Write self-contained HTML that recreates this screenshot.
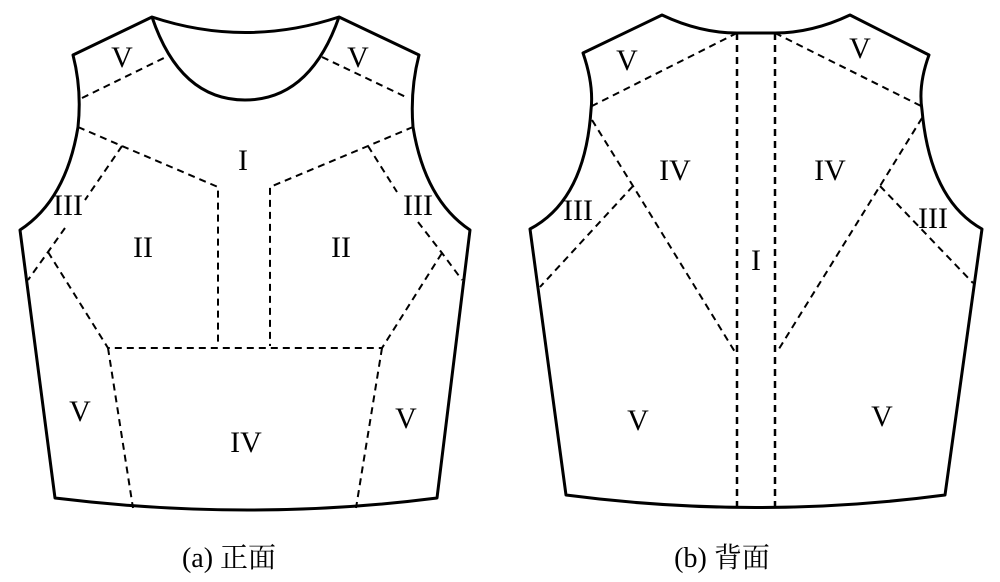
<!DOCTYPE html>
<html><head><style>body{margin:0;background:#fff}svg{display:block}</style></head>
<body>
<svg width="1000" height="582" viewBox="0 0 1000 582" xmlns="http://www.w3.org/2000/svg" font-family="'Liberation Serif','Noto Serif CJK SC',serif">
<g fill="none" stroke="#000" stroke-width="3" stroke-linejoin="round">
<path d="M73,55 L152,17 Q245,48 339,17 L419,55 Q410,90 413,127 Q425,200 470,230 L437,498 Q250,522 55,498 L20,230 Q66,200 78,127 Q82,90 73,55 Z"/>
<path d="M152,17 Q180,100 245,100 Q310,100 339,17" />
<path d="M583,53 L662,15 Q700,33 737,33 L775,33 Q812,33 850,15 L929,55 Q918,85 922,110 Q930,200 982,229 L945,495 Q756,520 566,495 L530,229 Q585,200 591,110 Q594,85 583,53 Z"/>
</g>
<g fill="none" stroke="#000" stroke-width="2" stroke-dasharray="7,5">
<path d="M82,98 L168,56"/><path d="M322,57 L408,98"/>
<path d="M78,127 L122,146 L218,187 L218,346"/>
<path d="M413,127 L368,146 L270,187 L270,346"/>
<path d="M122,146 L85,200"/><path d="M65,228 L48,252 L28,280"/><path d="M48,252 L108,348 L382,348 L442,253"/>
<path d="M368,146 L397,192"/><path d="M418,222 L442,253 L462,280"/>
<path d="M108,348 L133,508"/><path d="M382,348 L356,508"/>
<path d="M737,33 L737,512" stroke-width="2.5"/><path d="M775,33 L775,512" stroke-width="2.5"/>
<path d="M737,33 L592,106"/><path d="M775,33 L921,106"/>
<path d="M592,120 L633,186 L735,352"/><path d="M922,118 L880,186 L777,352"/>
<path d="M633,186 L540,287"/><path d="M880,186 L973,283"/>
</g>
<g font-size="30" text-anchor="middle" fill="#000">
<text x="122" y="67">V</text><text x="358" y="67">V</text>
<text x="243" y="170">I</text>
<text x="143" y="257">II</text><text x="341" y="257">II</text>
<text x="68" y="215">III</text><text x="418" y="215">III</text>
<text x="80" y="421">V</text><text x="406" y="428">V</text>
<text x="246" y="452">IV</text>
<text x="627" y="70">V</text><text x="860" y="58">V</text>
<text x="675" y="180">IV</text><text x="830" y="180">IV</text>
<text x="756" y="270">I</text>
<text x="578" y="220">III</text><text x="933" y="228">III</text>
<text x="638" y="430">V</text><text x="882" y="426">V</text>
</g>
<g font-size="28" text-anchor="middle" fill="#000">
<text x="229" y="567">(a) 正面</text>
<text x="722" y="567">(b) 背面</text>
</g>
</svg>
</body></html>
